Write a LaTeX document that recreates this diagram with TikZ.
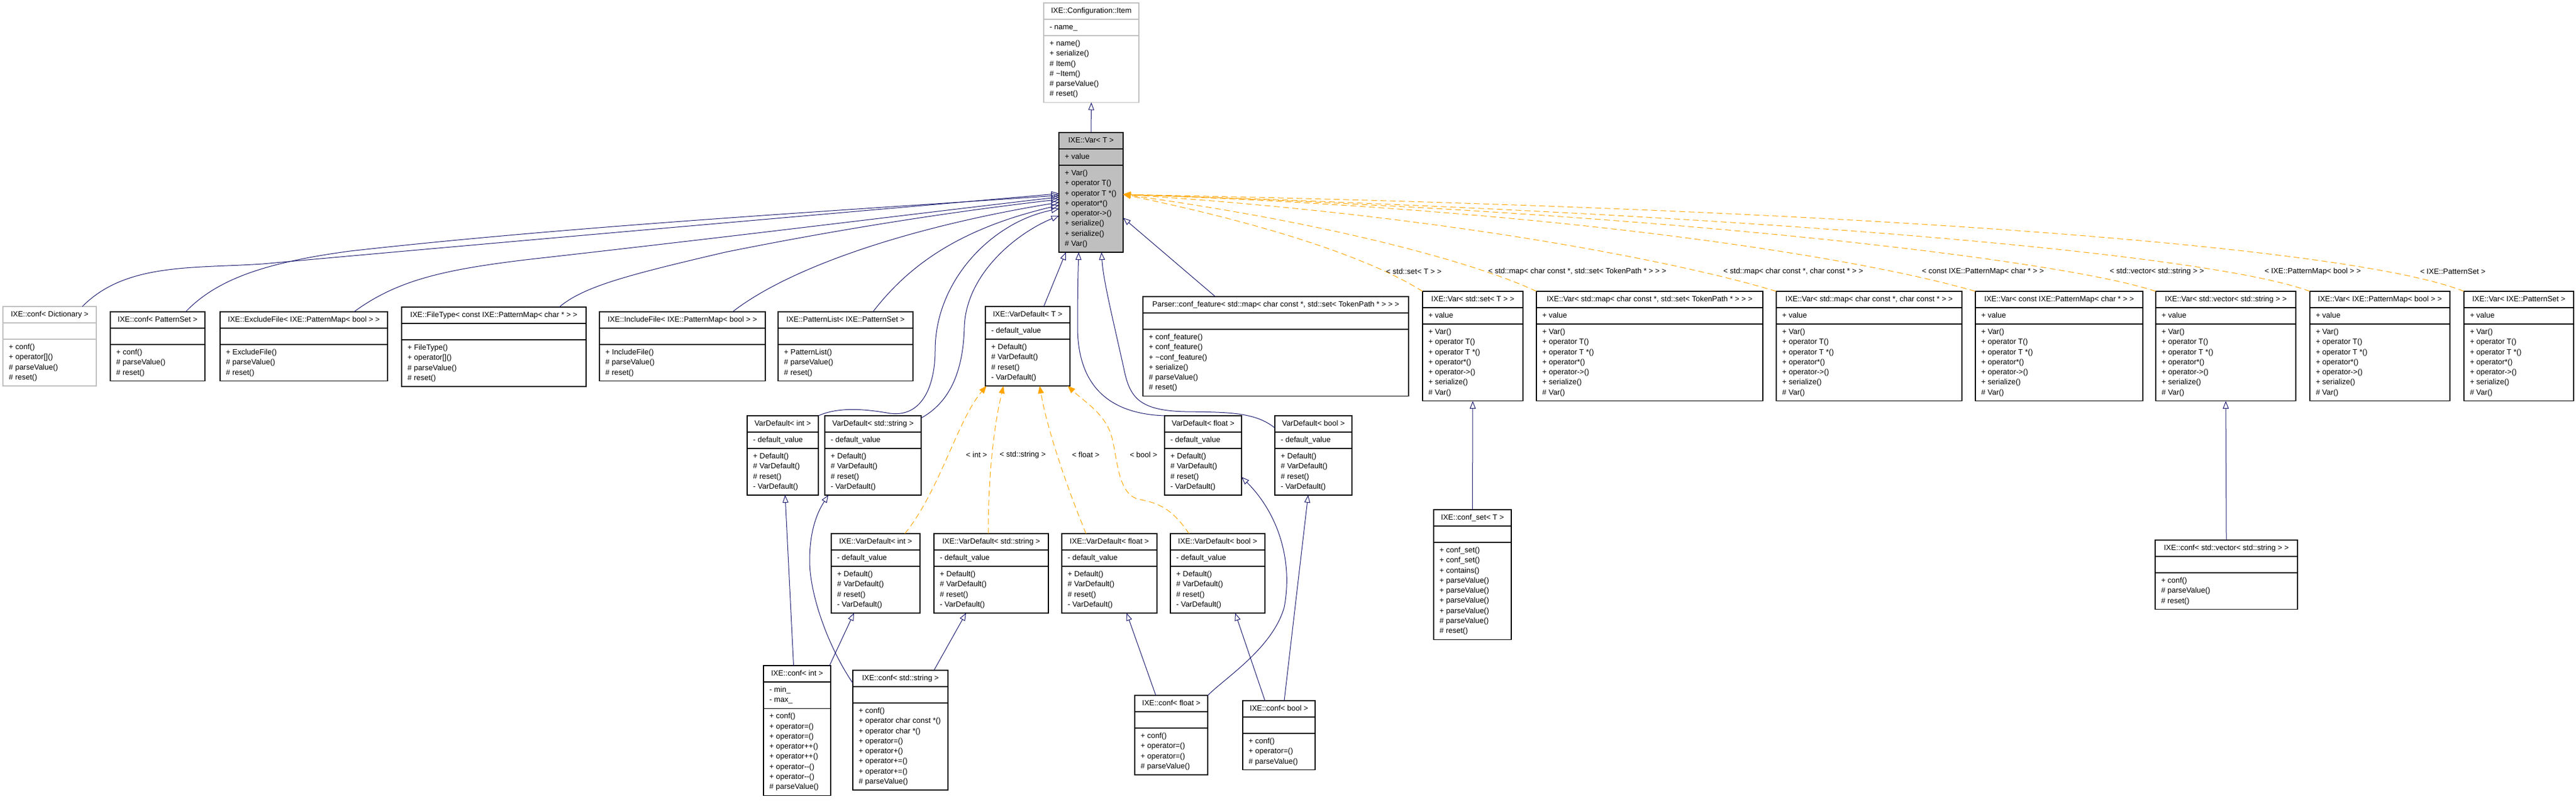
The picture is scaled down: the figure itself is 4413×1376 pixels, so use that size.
\documentclass[tikz,border=0pt]{standalone}
\usepackage{fontspec}
\setmainfont{Liberation Sans}
\usepackage{tikz}
\usetikzlibrary{arrows.meta}
\definecolor{edgenavy}{HTML}{191970}
\definecolor{tmplorange}{HTML}{FFA500}
\definecolor{boxgray}{HTML}{BFBFBF}
\tikzset{%
  myclass/.style={draw=black, fill=white, line width=1.3pt, inner sep=0pt, outer sep=0pt, anchor=north west},
  mysep/.style={draw=black, line width=1.3pt},
  mytext/.style={font=\fontsize{13}{17.3}\selectfont, inner sep=0pt},
  myedge/.style={-{Triangle[open, length=13pt, width=10pt]}, edgenavy, line width=1pt},
  mytmpl/.style={-{Triangle[length=13pt, width=10pt]}, tmplorange, line width=1pt, dash pattern=on 10pt off 6pt},
  mylabel/.style={font=\fontsize{13}{17.3}\selectfont, inner sep=0pt}
}
% [style] name, left, top, width, title, attributes, methods
\newcommand{\umlclass}[8][]{%
  \gdef\cnA{0}\gdef\cnM{0}%
  \foreach \ent [count=\k] in {#7} {\xdef\cnA{\k}}%
  \foreach \ent [count=\k] in {#8} {\xdef\cnM{\k}}%
  \pgfmathsetmacro\hA{17.3*\cnA+10.7}%
  \pgfmathsetmacro\hM{17.3*\cnM+10.7}%
  \node[myclass, #1, minimum width=#5, minimum height=28+\hA+\hM] (#2) at (#3,#4) {};
  \draw[mysep, #1] ({#3},{#4+28}) -- ++(#5,0);
  \draw[mysep, #1] ({#3},{#4+28+\hA}) -- ++(#5,0);
  \node[mytext, anchor=base] (#2-t) at ({#3+#5/2},{#4+17.46}) {#6};
  \foreach \ent [count=\k] in {#7} {\node[mytext, anchor=base west] (#2-a\k) at ({#3+10},{#4+45.46+17.3*(\k-1)}) {\ent};}
  \foreach \ent [count=\k] in {#8} {\node[mytext, anchor=base west] (#2-m\k) at ({#3+10},{#4+45.46+\hA+17.3*(\k-1)}) {\ent};}
}

\begin{document}
\begin{tikzpicture}[x=1pt, y=-1pt]
  \useasboundingbox (0,0) rectangle (4413,1376);

\umlclass[draw=boxgray]{item}{1788}{5}{163}{IXE::Configuration::Item}{- name\_}
  {+ name(), + serialize(), \# Item(), \# \textasciitilde Item(), \# parseValue(), \# reset()}
\umlclass[fill=boxgray]{var}{1814}{227}{110}{IXE::Var< T >}{+ value}
  {+ Var(), + operator T(), + operator T *(), + operator*(), + operator->(), + serialize(), + serialize(), \# Var()}

% left row
\umlclass[draw=boxgray]{dict}{5}{525}{160}{IXE::conf< Dictionary >}{\relax}
  {+ conf(), + operator[](), \# parseValue(), \# reset()}
\umlclass{pset}{189}{534}{162}{IXE::conf< PatternSet >}{\relax}
  {+ conf(), \# parseValue(), \# reset()}
\umlclass{excl}{377}{534}{287}{IXE::ExcludeFile< IXE::PatternMap< bool > >}{\relax}
  {+ ExcludeFile(), \# parseValue(), \# reset()}
\umlclass{ftype}{688}{526}{316}{IXE::FileType< const IXE::PatternMap< char * > >}{\relax}
  {+ FileType(), + operator[](), \# parseValue(), \# reset()}
\umlclass{incl}{1027}{534}{284}{IXE::IncludeFile< IXE::PatternMap< bool > >}{\relax}
  {+ IncludeFile(), \# parseValue(), \# reset()}
\umlclass{plist}{1333}{534}{231}{IXE::PatternList< IXE::PatternSet >}{\relax}
  {+ PatternList(), \# parseValue(), \# reset()}
\umlclass{vdT}{1688}{525}{145}{IXE::VarDefault< T >}{- default\_value}
  {+ Default(), \# VarDefault(), \# reset(), - VarDefault()}
\umlclass{parser}{1958}{508}{455}{Parser::conf\_feature< std::map< char const *, std::set< TokenPath * > > >}{\relax}
  {+ conf\_feature(), + conf\_feature(), + \textasciitilde conf\_feature(), + serialize(), \# parseValue(), \# reset()}

% var row
\foreach \nm/\lx/\bw/\ttl in {%
  vset/2437/172/{IXE::Var< std::set< T > >},
  vmapset/2632/388/{IXE::Var< std::map< char const *, std::set< TokenPath * > > >},
  vmapcc/3043/318/{IXE::Var< std::map< char const *, char const * > >},
  vpmc/3384/287/{IXE::Var< const IXE::PatternMap< char * > >},
  vvec/3693/240/{IXE::Var< std::vector< std::string > >},
  vpmb/3957/240/{IXE::Var< IXE::PatternMap< bool > >},
  vpset/4221/188/{IXE::Var< IXE::PatternSet >}} {
  \umlclass{\nm}{\lx}{499}{\bw}{\ttl}{+ value}
    {+ Var(), + operator T(), + operator T *(), + operator*(), + operator->(), + serialize(), \# Var()}
}

% default rows
\foreach \nm/\lx/\bw/\tp in {vdint/1280/122/int, vdstr/1413/165/std::string, vdflt/1995/132/float, vdbool/2184/132/bool} {
  \umlclass{\nm}{\lx}{712}{\bw}{VarDefault< \tp{} >}{- default\_value}
    {+ Default(), \# VarDefault(), \# reset(), - VarDefault()}
}
\foreach \nm/\lx/\bw/\tp in {ivint/1424/152/int, ivstr/1600/196/std::string, ivflt/1819/163/float, ivbool/2005/162/bool} {
  \umlclass{\nm}{\lx}{914}{\bw}{IXE::VarDefault< \tp{} >}{- default\_value}
    {+ Default(), \# VarDefault(), \# reset(), - VarDefault()}
}

% conf row
\umlclass{cint}{1308}{1140}{115}{IXE::conf< int >}{- min\_, - max\_}
  {+ conf(), + operator=(), + operator=(), + operator++(), + operator++(), + operator-{}-(), + operator-{}-(), \# parseValue()}
\umlclass{cstr}{1461}{1148}{163}{IXE::conf< std::string >}{\relax}
  {+ conf(), + operator char const *(), + operator char *(), + operator=(), + operator+(), + operator+=(), + operator+=(), \# parseValue()}
\umlclass{cflt}{1944}{1191}{125}{IXE::conf< float >}{\relax}
  {+ conf(), + operator=(), + operator=(), \# parseValue()}
\umlclass{cbool}{2129}{1200}{124}{IXE::conf< bool >}{\relax}
  {+ conf(), + operator=(), \# parseValue()}
\umlclass{cset}{2456}{873}{133}{IXE::conf\_set< T >}{\relax}
  {+ conf\_set(), + conf\_set(), + contains(), + parseValue(), + parseValue(), + parseValue(), + parseValue(), \# parseValue(), \# reset()}
\umlclass{cvec}{3692}{925}{244}{IXE::conf< std::vector< std::string > >}{\relax}
  {+ conf(), \# parseValue(), \# reset()}

% inheritance edges
\draw[myedge] (var.north) -- (item.south);
\draw[myedge] ([xshift=56]dict.north) .. controls (215,450) and (330,460) .. (450,452) .. controls (800,420) and (1400,368) .. ([yshift=-2]var.west);
\draw[myedge] ([xshift=48]pset.north) .. controls (370,480) and (450,450) .. (600,430) .. controls (1000,385) and (1500,357) .. ([yshift=-5]var.west);
\draw[myedge] ([xshift=86]excl.north) .. controls (680,480) and (760,462) .. (900,445) .. controls (1300,400) and (1600,362) .. ([yshift=-8]var.west);
\draw[myedge] ([xshift=112]ftype.north) .. controls (1000,490) and (1080,470) .. (1242,432) .. controls (1450,390) and (1650,360) .. ([yshift=-12]var.west);
\draw[myedge] ([xshift=86]incl.north) .. controls (1350,460) and (1550,390) .. ([yshift=-17]var.west);
\draw[myedge] ([xshift=47]plist.north) .. controls (1560,450) and (1650,390) .. ([yshift=-22]var.west);
\draw[myedge] (vdint.north east) .. controls (1440,695) and (1490,702) .. (1525,708) .. controls (1580,715) and (1602,660) .. (1602,600) .. controls (1602,480) and (1700,380) .. ([yshift=-28]var.west);
\draw[myedge] ([yshift=-4]vdstr.north east) .. controls (1625,690) and (1650,640) .. (1652,560) .. controls (1655,470) and (1740,400) .. ([yshift=-40]var.west);
\draw[myedge] ([xshift=27.5]vdT.north) -- ([xshift=-43]var.south);
\draw[myedge] (vdflt.north west) .. controls (1880,708) and (1846,640) .. (1846,560) .. controls (1846,500) and (1847,460) .. ([xshift=-21]var.south);
\draw[myedge] ([yshift=-21]vdbool.north west) .. controls (2150,705) and (2100,706) .. (2030,705) .. controls (1950,703) and (1935,680) .. (1925,630) .. controls (1905,540) and (1890,480) .. ([xshift=18]var.south);
\draw[myedge] ([xshift=-103.5]parser.north) -- ([yshift=-43.5]var.east);

\draw[myedge] ([xshift=-6]cint.north) -- ([xshift=4]vdint.south);
\draw[myedge] ([xshift=-2]cint.north east) -- ([xshift=-37]ivint.south);
\draw[myedge] ([yshift=-22]cstr.north west) .. controls (1420,1110) and (1387,1020) .. (1387,960) .. controls (1387,900) and (1405,870) .. ([xshift=6]vdstr.south west);
\draw[myedge] ([xshift=57.5]cstr.north) -- ([xshift=-43]ivstr.south);
\draw[myedge] ([xshift=-26.5]cflt.north) -- ([xshift=29.5]ivflt.south);
\draw[myedge] (cflt.north east) .. controls (2100,1160) and (2180,1110) .. (2200,1040) .. controls (2215,960) and (2190,880) .. ([yshift=-37]vdflt.east);
\draw[myedge] ([xshift=-24]cbool.north) -- ([xshift=30]ivbool.south);
\draw[myedge] ([xshift=9]cbool.north) -- ([xshift=-9]vdbool.south);
\draw[myedge] (cset.north) -- (vset.south);
\draw[myedge] (cvec.north) -- (vvec.south);

% template edges
\foreach \nm/\xa/\ya/\xb/\yb in {vset/2360/450/2200/390, vmapset/2540/455/2300/385, vmapcc/2900/455/2500/370, vpmc/3200/445/2700/360, vvec/3550/450/2900/365, vpmb/3800/440/3100/370, vpset/4050/430/3300/360} {
  \draw[mytmpl] (\nm.north west) .. controls (\xa,\ya) and (\xb,\yb) .. ([yshift=-3.5]var.east);
}
\draw[mytmpl] ([xshift=50]ivint.north) .. controls (1610,840) and (1640,720) .. ([xshift=2]vdT.south west);
\draw[mytmpl] ([xshift=-5]ivstr.north) .. controls (1693,800) and (1705,720) .. ([xshift=31]vdT.south west);
\draw[mytmpl] ([xshift=-40]ivflt.north) .. controls (1830,840) and (1795,740) .. ([xshift=93]vdT.south west);
\draw[mytmpl] ([xshift=-49]ivbool.north) .. controls (2010,875) and (1990,862) .. (1950,855) .. controls (1915,845) and (1915,790) .. (1905,750) .. controls (1895,710) and (1860,690) .. ([xshift=141]vdT.south west);

% template labels
\foreach \i/\lx/\ly/\txt in {1/2422/465/{< std::set< T > >}, 2/2702/465/{< std::map< char const *, std::set< TokenPath * > > >}, 3/3072/465/{< std::map< char const *, char const * > >}, 4/3397/465/{< const IXE::PatternMap< char * > >}, 5/3695/465/{< std::vector< std::string > >}, 6/3962/465/{< IXE::PatternMap< bool > >}, 7/4202/465/{< IXE::PatternSet >}, 8/1673/779/{< int >}, 9/1752/779/{< std::string >}, 10/1860/779/{< float >}, 11/1959/779/{< bool >}} {
  \node[mylabel] (tl\i) at (\lx,\ly) {\txt};
}

\end{tikzpicture}
\end{document}
